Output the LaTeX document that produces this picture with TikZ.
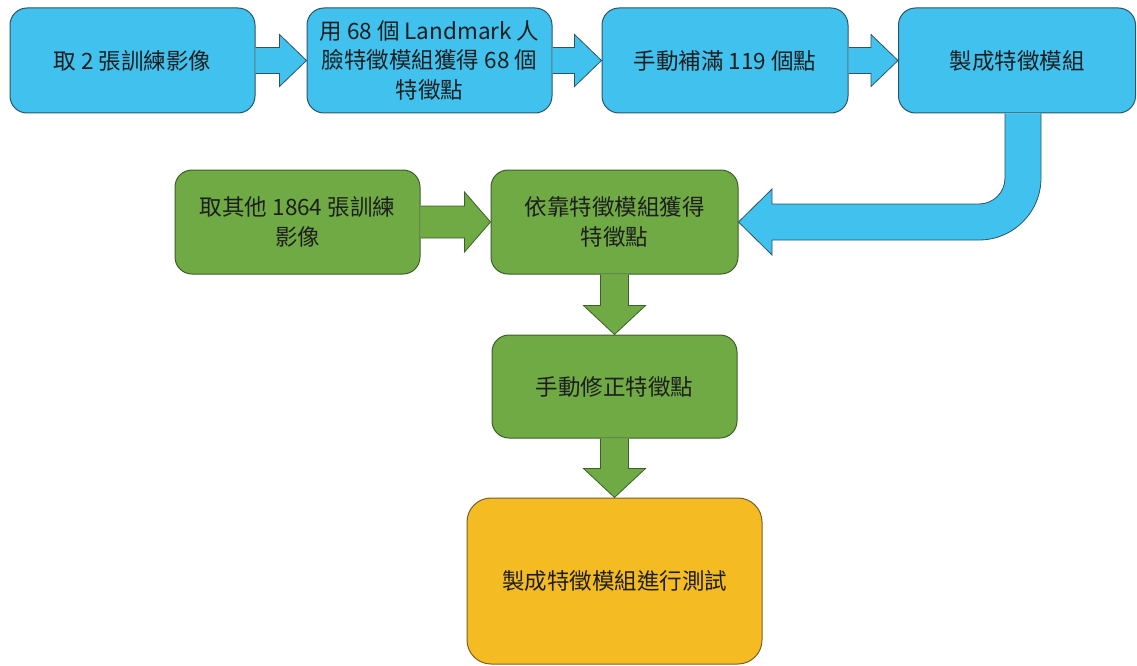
\documentclass[tikz,border=0pt]{standalone}
\usepackage{fontspec}
\setmainfont{Noto Sans CJK TC}
\usetikzlibrary{calc}
\definecolor{cblue}{HTML}{41C1EE}
\definecolor{dblue}{HTML}{2C5466}
\definecolor{cgreen}{HTML}{6FAA45}
\definecolor{dgreen}{HTML}{3E5F2A}
\definecolor{cyellow}{HTML}{F4BB22}
\definecolor{dyellow}{HTML}{74602A}
\definecolor{textc}{HTML}{1E1E1E}
\tikzset{
  box/.style={rectangle, rounded corners=17pt, minimum width=245pt, minimum height=105pt,
    align=center, line width=1pt, text=textc, inner sep=0pt,
    font=\fontsize{22.5}{29.5}\selectfont},
  bluebox/.style={box, fill=cblue, draw=dblue},
  greenbox/.style={box, fill=cgreen, draw=dgreen},
  yellowbox/.style={box, fill=cyellow, draw=dyellow},
  bluearrow/.style={fill=cblue, draw=dblue, line width=0.8pt, line join=miter},
  greenarrow/.style={fill=cgreen, draw=dgreen, line width=0.8pt, line join=miter},
}
\newcommand\rblock[6]{% from #1 to #2, style #3, shaft half #4, head half #5, head length #6
  \draw[#3] ($(#1.east)+(0,-#4)$) -- ($(#2.west)+(-#6,-#4)$) -- ($(#2.west)+(-#6,-#5)$)
    -- (#2.west) -- ($(#2.west)+(-#6,#5)$) -- ($(#2.west)+(-#6,#4)$) -- ($(#1.east)+(0,#4)$);}
\newcommand\dblock[6]{% from #1 down to #2
  \draw[#3] ($(#1.south)+(-#4,0)$) -- ($(#2.north)+(-#4,-#6)$) -- ($(#2.north)+(-#5,-#6)$)
    -- (#2.north) -- ($(#2.north)+(#5,-#6)$) -- ($(#2.north)+(#4,-#6)$) -- ($(#1.south)+(#4,0)$);}
\begin{document}
\begin{tikzpicture}[x=1pt, y=-1pt]
\useasboundingbox (0,0) rectangle (1137,666);
% top row
\node[bluebox] (b1) at (132.5,60.5) {取 2 張訓練影像};
\node[bluebox] (b2) at (429.5,60.5) {用 68 個 Landmark 人\\臉特徵模組獲得 68 個\\特徵點};
\node[bluebox, minimum width=246pt] (b3) at (725,60.5) {手動補滿 119 個點};
\node[bluebox, minimum width=237pt] (b4) at (1017,60.5) {製成特徵模組};
% middle
\node[greenbox, minimum height=104pt] (b5) at (297.5,222) {取其他 1864 張訓練\\影像};
\node[greenbox, minimum width=247pt, minimum height=104pt] (b6) at (614.5,222) {依靠特徵模組獲得\\特徵點};
\node[greenbox, minimum height=103pt] (b7) at (614.5,386.5) {手動修正特徵點};
\node[yellowbox, minimum width=295pt, minimum height=166pt, rounded corners=24pt] (b8) at (614.5,581) {製成特徵模組進行測試};
% arrows
\rblock{b1}{b2}{bluearrow}{13}{26}{27}
\rblock{b2}{b3}{bluearrow}{13}{26}{27}
\rblock{b3}{b4}{bluearrow}{13}{26}{27}
\rblock{b5}{b6}{greenarrow}{16}{30}{26}
\dblock{b6}{b7}{greenarrow}{14}{31}{29}
\dblock{b7}{b8}{greenarrow}{14}{31}{29}
% curved arrow from b4 to b6
\coordinate (cs) at ($(b4.south)+(-12,0)$);
\coordinate (ce) at ($(b4.south)+(24,0)$);
\draw[bluearrow] (cs) -- (1005,178) .. controls (1005,192.4) and (993.4,204) .. (979,204)
  -- (772,204) -- (772,189) -- (b6.east) -- (772,255) -- (772,240) -- (979,240)
  .. controls (1013.2,240) and (1041,212.2) .. (1041,178) -- (ce);
\end{tikzpicture}
\end{document}
